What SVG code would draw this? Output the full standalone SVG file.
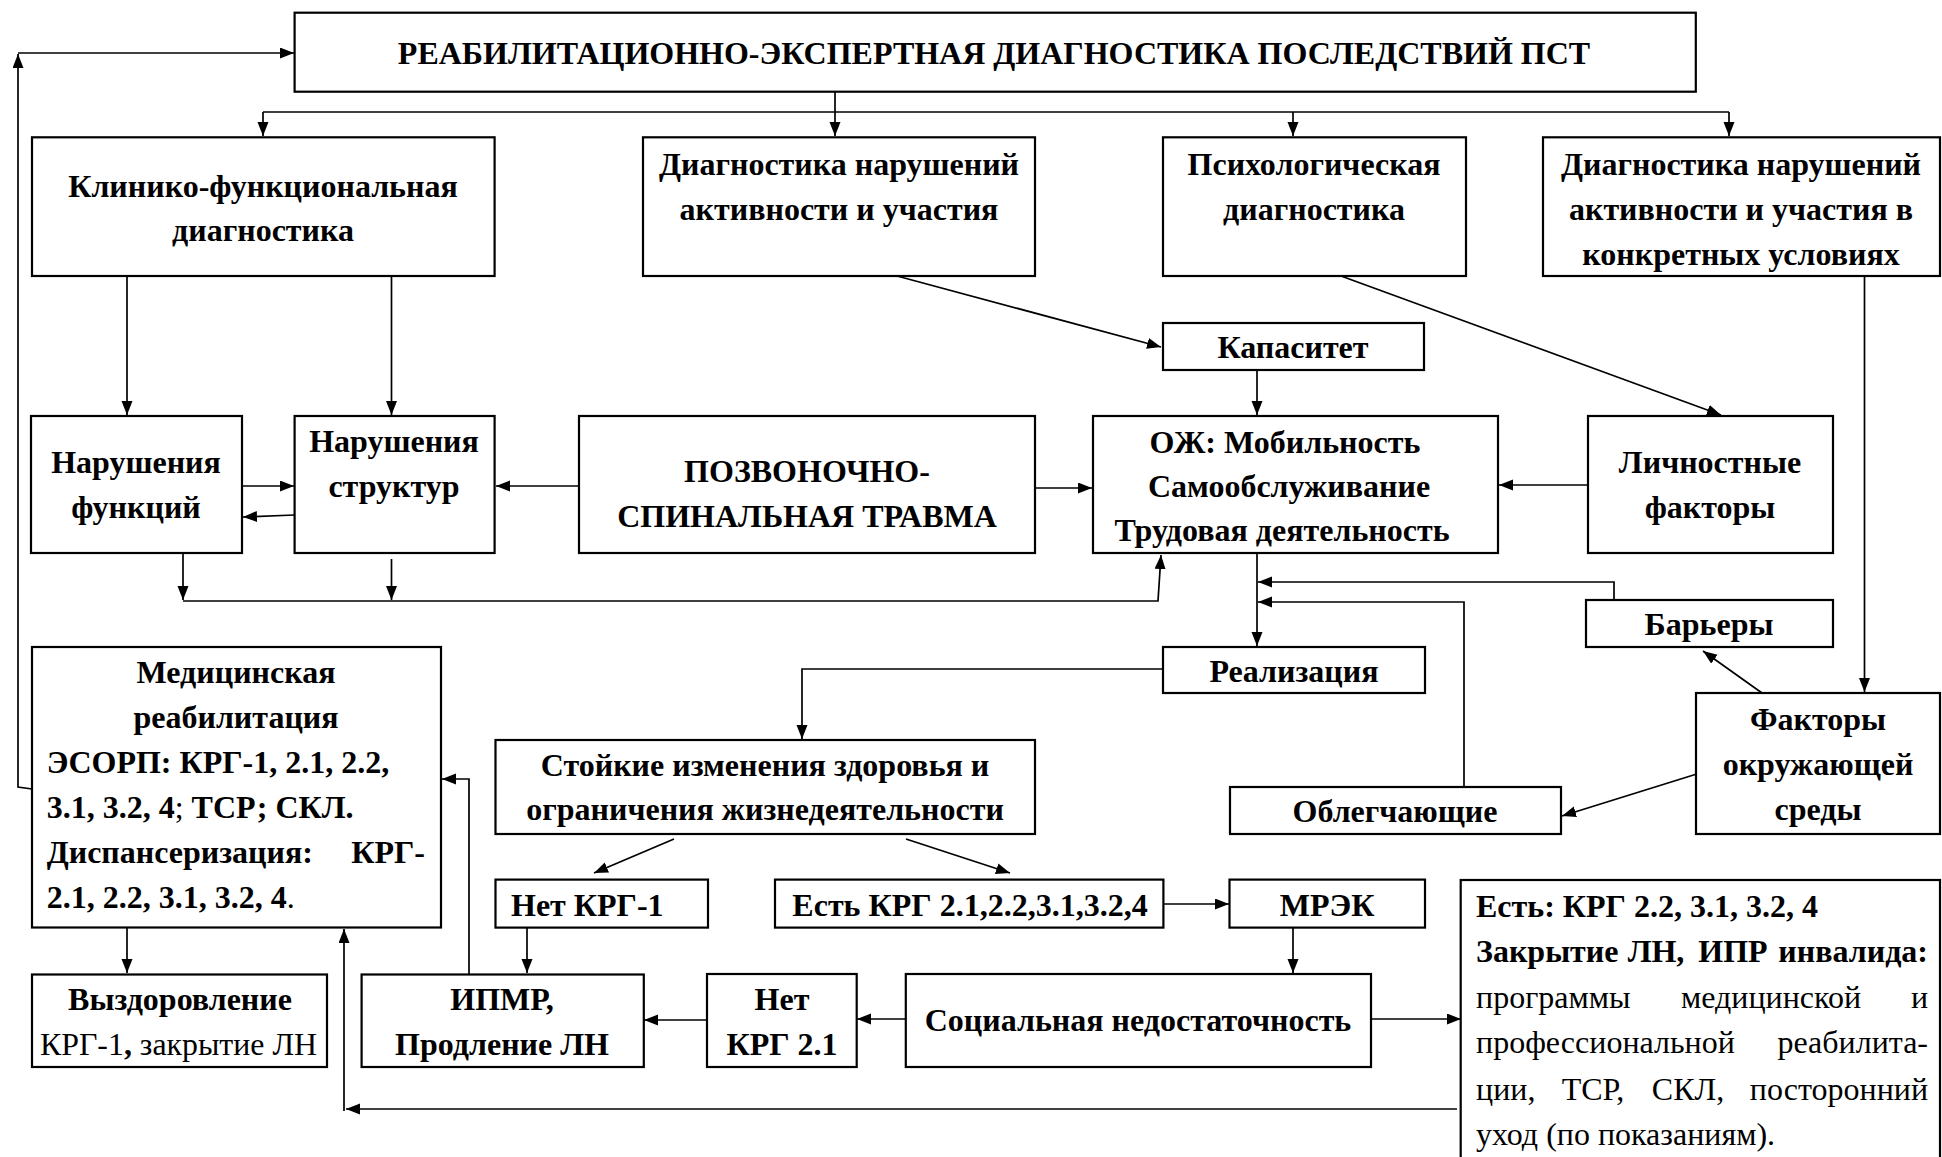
<svg xmlns="http://www.w3.org/2000/svg" width="1942" height="1157" viewBox="0 0 1942 1157">
<style>
.box{fill:#fff;stroke:#000;stroke-width:2.2}
.c{fill:none;stroke:#000;stroke-width:1.7}
.t{font-family:"Liberation Serif","Times New Roman",serif;font-size:32px;font-weight:bold;fill:#000}
.m{text-anchor:middle}
.e{text-anchor:end}
.r{font-weight:normal}
</style>
<defs>
<marker id="a" markerUnits="userSpaceOnUse" markerWidth="15" markerHeight="12" refX="14" refY="5.5" orient="auto">
<path d="M0,0 L14,5.5 L0,11 z" fill="#000"/>
</marker>
</defs>
<rect width="1942" height="1157" fill="#fff"/>

<g id="connectors">
<path class="c" d="M32,789 L18,787 L18,54" marker-end="url(#a)"/>
<path class="c" d="M18,53 L294,53" marker-end="url(#a)"/>
<path class="c" d="M835,92 L835,136" marker-end="url(#a)"/>
<path class="c" d="M263,112 L1729,112"/>
<path class="c" d="M263,112 L263,136" marker-end="url(#a)"/>
<path class="c" d="M1293,112 L1293,136" marker-end="url(#a)"/>
<path class="c" d="M1729,112 L1729,136" marker-end="url(#a)"/>
<path class="c" d="M127,276 L127,415" marker-end="url(#a)"/>
<path class="c" d="M391.5,276 L391.5,415" marker-end="url(#a)"/>
<path class="c" d="M242,486 L294,486" marker-end="url(#a)"/>
<path class="c" d="M294,515 L243,517" marker-end="url(#a)"/>
<path class="c" d="M579,486 L496,486" marker-end="url(#a)"/>
<path class="c" d="M1035,488 L1092,488" marker-end="url(#a)"/>
<path class="c" d="M183,553 L183,600" marker-end="url(#a)"/>
<path class="c" d="M391.5,559 L391.5,600" marker-end="url(#a)"/>
<path class="c" d="M183,601 L1158,601 L1161,555" marker-end="url(#a)"/>
<path class="c" d="M897,276 L1161,347" marker-end="url(#a)"/>
<path class="c" d="M1257,370 L1257,415" marker-end="url(#a)"/>
<path class="c" d="M1341,276 L1721,415" marker-end="url(#a)"/>
<path class="c" d="M1588,485 L1499,485" marker-end="url(#a)"/>
<path class="c" d="M1257,553 L1257,646" marker-end="url(#a)"/>
<path class="c" d="M1614,600 L1614,582 L1258,582" marker-end="url(#a)"/>
<path class="c" d="M1464,787 L1464,602 L1258,602" marker-end="url(#a)"/>
<path class="c" d="M1864.5,276 L1864.5,692" marker-end="url(#a)"/>
<path class="c" d="M1762,693 L1703,651" marker-end="url(#a)"/>
<path class="c" d="M1700,773 L1562,816" marker-end="url(#a)"/>
<path class="c" d="M1163,669 L802,669 L802,739" marker-end="url(#a)"/>
<path class="c" d="M674,839 L594,873" marker-end="url(#a)"/>
<path class="c" d="M906,839 L1010,873" marker-end="url(#a)"/>
<path class="c" d="M1163,904 L1229,904" marker-end="url(#a)"/>
<path class="c" d="M1293,927.5 L1293,973" marker-end="url(#a)"/>
<path class="c" d="M906,1019 L857,1019" marker-end="url(#a)"/>
<path class="c" d="M707,1020 L644,1020" marker-end="url(#a)"/>
<path class="c" d="M1371,1019 L1461,1019" marker-end="url(#a)"/>
<path class="c" d="M527,927.5 L527,973" marker-end="url(#a)"/>
<path class="c" d="M469,974 L469,779 L442,779" marker-end="url(#a)"/>
<path class="c" d="M127,927.5 L127,973" marker-end="url(#a)"/>
<path class="c" d="M1457,1109 L346,1109" marker-end="url(#a)"/>
<path class="c" d="M344,1111 L344,929" marker-end="url(#a)"/>
</g>

<g id="title"><rect class="box" x="294.6" y="12.7" width="1401.2" height="79"/>
<text class="t m" x="994" y="64">РЕАБИЛИТАЦИОННО-ЭКСПЕРТНАЯ ДИАГНОСТИКА ПОСЛЕДСТВИЙ ПСТ</text></g>

<g id="klin"><rect class="box" x="32" y="137.3" width="462.6" height="138.7"/>
<text class="t m" x="263" y="197">Клинико-функциональная</text>
<text class="t m" x="263" y="241">диагностика</text></g>

<g id="act"><rect class="box" x="643" y="137.3" width="392" height="138.7"/>
<text class="t m" x="839" y="175">Диагностика нарушений</text>
<text class="t m" x="839" y="220">активности и участия</text></g>

<g id="psych"><rect class="box" x="1163" y="137.3" width="303" height="138.7"/>
<text class="t m" x="1314" y="175">Психологическая</text>
<text class="t m" x="1314" y="220">диагностика</text></g>

<g id="ctx"><rect class="box" x="1543" y="137.3" width="397" height="138.7"/>
<text class="t m" x="1741" y="175">Диагностика нарушений</text>
<text class="t m" x="1741" y="220">активности и участия в</text>
<text class="t m" x="1741" y="265">конкретных условиях</text></g>

<g id="kapasitet"><rect class="box" x="1163" y="323" width="261" height="47"/>
<text class="t m" x="1293" y="358">Капаситет</text></g>

<g id="func"><rect class="box" x="31" y="416" width="211" height="137"/>
<text class="t m" x="136" y="473">Нарушения</text>
<text class="t m" x="136" y="518">функций</text></g>

<g id="struct"><rect class="box" x="294.6" y="416" width="200" height="137"/>
<text class="t m" x="394" y="452">Нарушения</text>
<text class="t m" x="394" y="497">структур</text></g>

<g id="pst"><rect class="box" x="579" y="416" width="456" height="137"/>
<text class="t m" x="807" y="482">ПОЗВОНОЧНО-</text>
<text class="t m" x="807" y="527">СПИНАЛЬНАЯ ТРАВМА</text></g>

<g id="oj"><rect class="box" x="1093" y="416" width="405" height="137"/>
<text class="t m" x="1285" y="453">ОЖ: Мобильность</text>
<text class="t m" x="1289" y="497">Самообслуживание</text>
<text class="t m" x="1282" y="541">Трудовая деятельность</text></g>

<g id="lichn"><rect class="box" x="1588" y="416" width="245" height="137"/>
<text class="t m" x="1710" y="473">Личностные</text>
<text class="t m" x="1710" y="518">факторы</text></g>

<g id="realiz"><rect class="box" x="1163" y="647" width="262" height="46"/>
<text class="t m" x="1294" y="682">Реализация</text></g>

<g id="barrier"><rect class="box" x="1586" y="600" width="247" height="47"/>
<text class="t m" x="1709" y="635">Барьеры</text></g>

<g id="medreab"><rect class="box" x="32" y="647" width="409" height="280.5"/>
<text class="t m" x="236" y="683">Медицинская</text>
<text class="t m" x="236" y="728">реабилитация</text>
<text class="t" x="46.7" y="773">ЭСОРП: КРГ-1, 2.1, 2.2,</text>
<text class="t" x="46.7" y="818">3.1, 3.2, 4<tspan class="r">;</tspan> ТСР; СКЛ.</text>
<text class="t" x="46.7" y="863">Диспансеризация:</text>
<text class="t e" x="425" y="863">КРГ-</text>
<text class="t" x="46.7" y="908">2.1, 2.2, 3.1, 3.2, 4<tspan class="r">.</tspan></text></g>

<g id="stoik"><rect class="box" x="495.5" y="740" width="539.5" height="94"/>
<text class="t m" x="765" y="776">Стойкие изменения здоровья и</text>
<text class="t m" x="765" y="820">ограничения жизнедеятельности</text></g>

<g id="obleg"><rect class="box" x="1230" y="787" width="331" height="47"/>
<text class="t m" x="1395" y="822">Облегчающие</text></g>

<g id="factors"><rect class="box" x="1696" y="693" width="244" height="141"/>
<text class="t m" x="1818" y="730">Факторы</text>
<text class="t m" x="1818" y="775">окружающей</text>
<text class="t m" x="1818" y="820">среды</text></g>

<g id="net1"><rect class="box" x="495.5" y="879.6" width="212.5" height="48"/>
<text class="t" x="511" y="916">Нет КРГ-1</text></g>

<g id="est"><rect class="box" x="775" y="879.6" width="388.4" height="48"/>
<text class="t m" x="970" y="916">Есть КРГ 2.1,2.2,3.1,3.2,4</text></g>

<g id="mrek"><rect class="box" x="1229.5" y="879.6" width="195.5" height="48"/>
<text class="t m" x="1327" y="916">МРЭК</text></g>

<g id="estbox"><rect class="box" x="1460.7" y="880" width="479.3" height="290"/>
<text class="t" x="1476" y="917">Есть: КРГ 2.2, 3.1, 3.2, 4</text>
<text class="t" x="1476" y="962">Закрытие</text>
<text class="t m" x="1656" y="962">ЛН,</text>
<text class="t m" x="1733" y="962">ИПР</text>
<text class="t e" x="1928" y="962">инвалида:</text>
<text class="t r" x="1476" y="1008">программы</text>
<text class="t r m" x="1771" y="1008">медицинской</text>
<text class="t r e" x="1928" y="1008">и</text>
<text class="t r" x="1476" y="1053">профессиональной</text>
<text class="t r e" x="1928" y="1053">реабилита-</text>
<text class="t r" x="1476" y="1100">ции,</text>
<text class="t r m" x="1593" y="1100">ТСР,</text>
<text class="t r m" x="1688" y="1100">СКЛ,</text>
<text class="t r e" x="1928" y="1100">посторонний</text>
<text class="t r" x="1476" y="1145">уход (по показаниям).</text></g>

<g id="recovery"><rect class="box" x="32" y="974.5" width="295" height="92.5"/>
<text class="t m" x="180" y="1010">Выздоровление</text>
<text class="t r" x="40" y="1055" textLength="277" lengthAdjust="spacingAndGlyphs">КРГ-1<tspan font-weight="bold">,</tspan> закрытие ЛН</text></g>

<g id="ipmr"><rect class="box" x="361.6" y="974.5" width="282.2" height="92.5"/>
<text class="t m" x="502" y="1010">ИПМР,</text>
<text class="t m" x="502" y="1055">Продление ЛН</text></g>

<g id="net21"><rect class="box" x="707" y="974" width="149.7" height="93"/>
<text class="t m" x="782" y="1010">Нет</text>
<text class="t m" x="782" y="1055">КРГ 2.1</text></g>

<g id="social"><rect class="box" x="905.8" y="974" width="465.2" height="93"/>
<text class="t m" x="1138" y="1031">Социальная недостаточность</text></g>
</svg>
